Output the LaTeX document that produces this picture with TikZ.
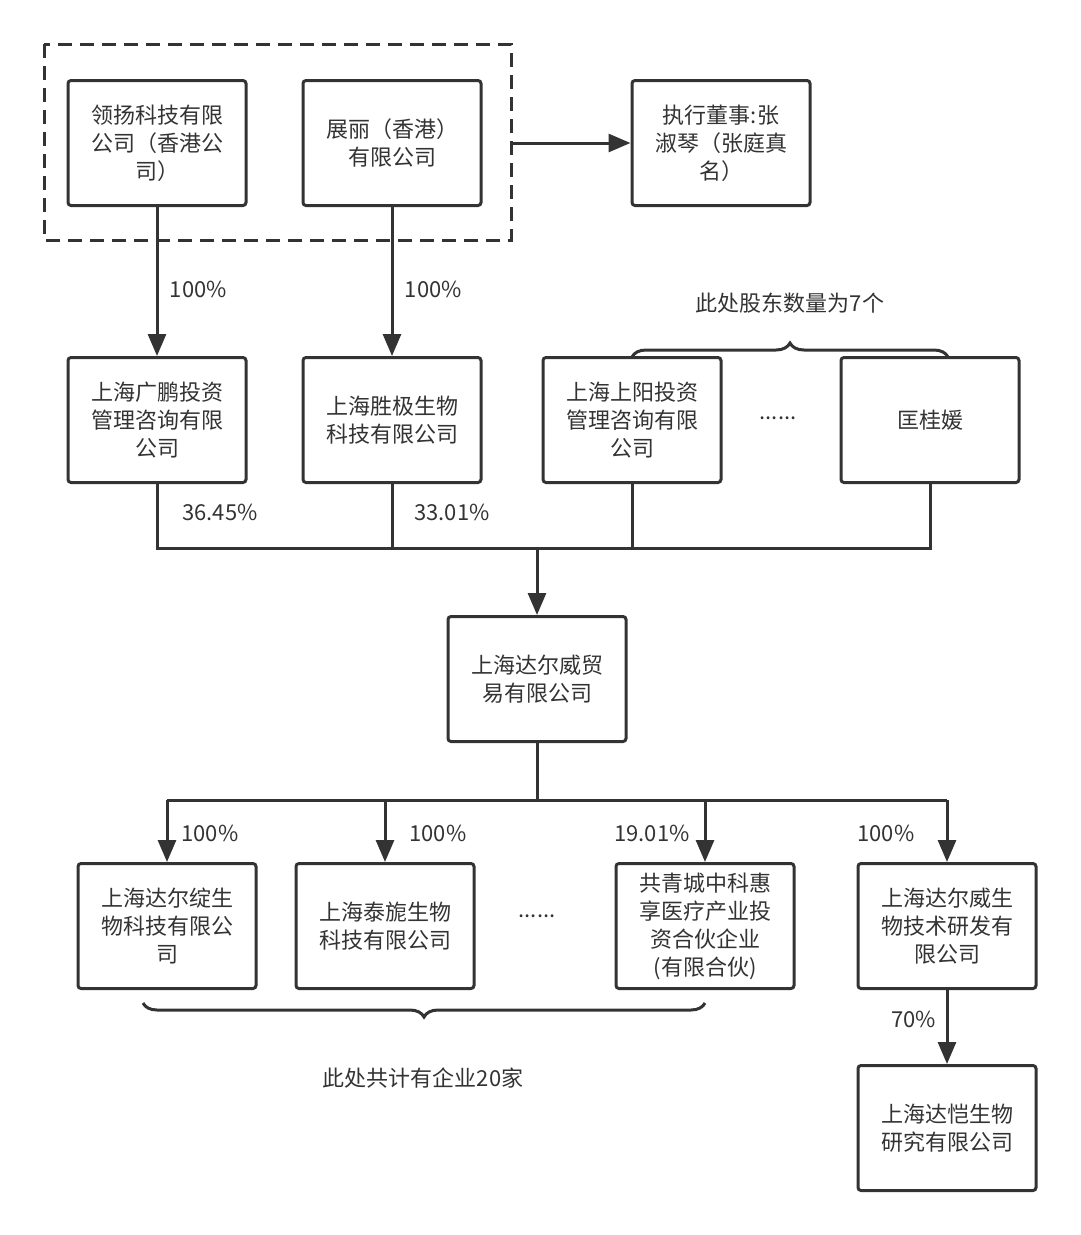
\documentclass[tikz,border=0pt]{standalone}
\usepackage{fontspec}
\setmainfont{Noto Sans CJK SC}
\usetikzlibrary{positioning, arrows.meta, decorations.pathreplacing}

\begin{document}
\begin{tikzpicture}[
    x=1pt, y=-1pt,
    box/.style={rectangle, draw=black!80, line width=3pt, minimum width=178pt, minimum height=125pt, rounded corners=3pt, align=center, font=\fontsize{22}{28}\selectfont, text=black!80},
    lbl/.style={font=\fontsize{22}{26}\selectfont, text=black!80},
    link/.style={draw=black!80, line width=3pt},
    arr/.style={link, -{Triangle[length=22pt, width=18pt]}}
]
\useasboundingbox (0,0) rectangle (1080,1235);

% Hong Kong holding companies
\draw[link, dash pattern=on 14pt off 8pt] (44,44) rectangle (511,240);
\node[box] (lingyang) at (157,143) {领扬科技有限\\公司（香港公\\司）};
\node[box] (zhanli) at (392,143) {展丽（香港）\\有限公司};
\node[box] (director) at (721,143) {执行董事:张\\淑琴（张庭真\\名）};
\coordinate (dashright) at (511,143);
\draw[arr] (dashright) -- (director);

% Shareholders
\node[box] (guangpeng) at (157,420) {上海广鹏投资\\管理咨询有限\\公司};
\node[box] (shengji) at (392,420) {上海胜极生物\\科技有限公司};
\node[box] (shangyang) at (632,420) {上海上阳投资\\管理咨询有限\\公司};
\node[box] (kuang) at (930,420) {匡桂媛};
\node[lbl] (dots1) at (778,418) {......};
\draw[arr] (lingyang) -- node[lbl, right=8pt, pos=0.55] {100\%} (guangpeng);
\draw[arr] (zhanli) -- node[lbl, right=8pt, pos=0.55] {100\%} (shengji);
\draw[link, decorate, decoration={brace, amplitude=14pt}] (632,357) -- (948,357);
\node[lbl] (seven) at (790,303) {此处股东数量为7个};

% Merge into Darwei
\node[box] (darwei) at (537,679) {上海达尔威贸\\易有限公司};
\coordinate (mL) at (157,548);
\coordinate (mR) at (930,548);
\coordinate (mC) at (537,548);
\draw[link] (guangpeng) -- (mL) -- (mR) -- (kuang);
\draw[link] (shengji) -- (392,548);
\draw[link] (shangyang) -- (632,548);
\draw[arr] (mC) -- (darwei);
\node[lbl] at (220,512) {36.45\%};
\node[lbl] at (452,512) {33.01\%};

% Subsidiaries
\node[box] (dinger) at (167,926) {上海达尔绽生\\物科技有限公\\司};
\node[box] (taixuan) at (385,926) {上海泰旎生物\\科技有限公司};
\node[box] (gongqing) at (705,926) {共青城中科惠\\享医疗产业投\\资合伙企业\\(有限合伙)};
\node[box] (yanfa) at (947,926) {上海达尔威生\\物技术研发有\\限公司};
\node[lbl] (dots2) at (537,916) {......};
\coordinate (sC) at (537,800);
\coordinate (s1) at (167,800);
\coordinate (s2) at (385,800);
\coordinate (s3) at (705,800);
\coordinate (s4) at (947,800);
\draw[link] (darwei) -- (sC);
\draw[link] (s1) -- (s4);
\draw[arr] (s1) -- (dinger);
\draw[arr] (s2) -- (taixuan);
\draw[arr] (s3) -- (gongqing);
\draw[arr] (s4) -- (yanfa);
\node[lbl] at (210,833) {100\%};
\node[lbl] at (438,833) {100\%};
\node[lbl] at (652,833) {19.01\%};
\node[lbl] at (886,833) {100\%};
\draw[link, decorate, decoration={brace, amplitude=14pt, mirror}] (143,1003) -- (705,1003);
\node[lbl] (twenty) at (423,1078) {此处共计有企业20家};

\node[box] (dakai) at (947,1128) {上海达恺生物\\研究有限公司};
\draw[arr] (yanfa) -- node[lbl, left=6pt, pos=0.4] {70\%} (dakai);
\end{tikzpicture}
\end{document}
